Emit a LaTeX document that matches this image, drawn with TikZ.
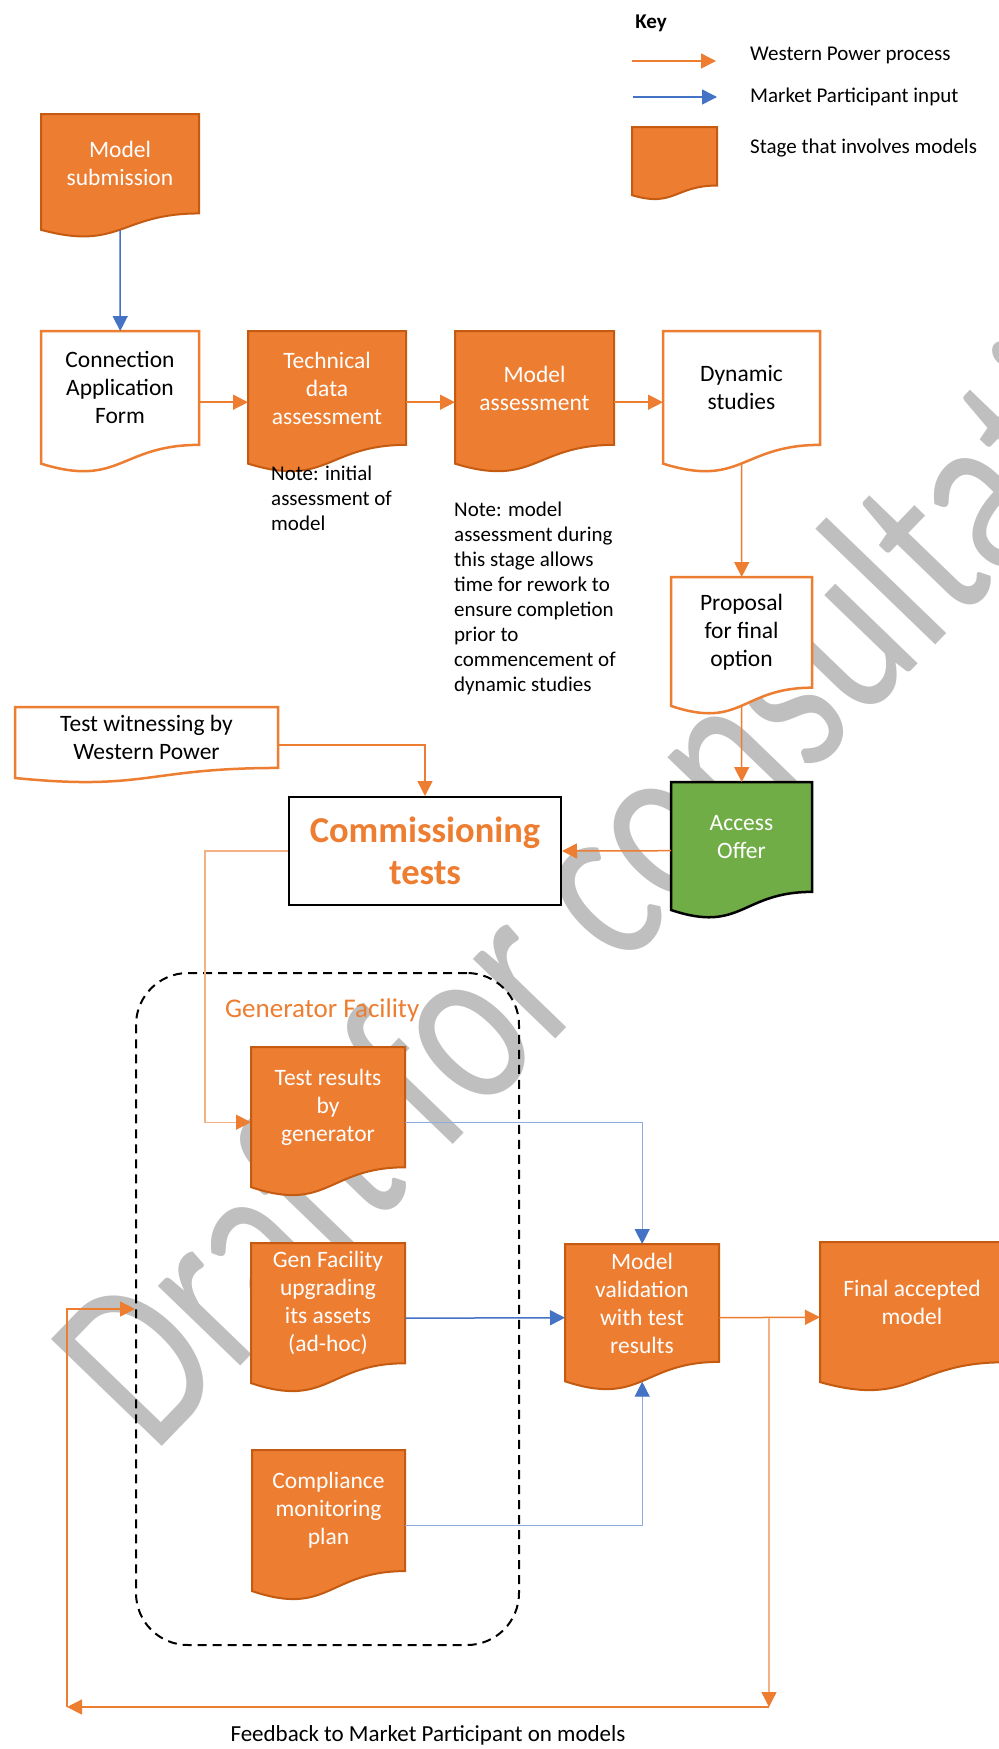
\documentclass[tikz,border=0pt]{standalone}
\usepackage{fontspec}
\setmainfont{Carlito}
\usetikzlibrary{arrows.meta,calc}
\definecolor{orng}{HTML}{ED7D31}
\definecolor{orngdark}{HTML}{C55A11}
\definecolor{ornglight}{HTML}{F4B183}
\definecolor{blu}{HTML}{4472C4}
\definecolor{blulight}{HTML}{8FAADC}
\definecolor{grn}{HTML}{70AD47}
\definecolor{wmgray}{HTML}{BFBFBF}
\tikzset{
  tip/.style={-{Triangle[length=15pt,width=15pt]}},
  oarr/.style={draw=orng, line width=1.5pt, tip},
  loarr/.style={draw=ornglight, line width=1.3pt, -{Triangle[length=15pt,width=15pt,fill=orng,color=orng]}},
  barr/.style={draw=blu, line width=1.5pt, tip},
  lbarr/.style={draw=blulight, line width=1.3pt, -{Triangle[length=15pt,width=15pt,fill=blu,color=blu]}},
  boxfont/.style={font=\fontsize{23.5}{28}\selectfont},
  od-shape/.style={fill=orng, draw=orngdark, line width=2pt},
  od-text/.style={boxfont, text=white, align=center, inner sep=0pt},
  wd-shape/.style={fill=white, draw=orng, line width=2.5pt},
  wd-text/.style={boxfont, text=black, align=center, inner sep=0pt},
  gd-shape/.style={fill=grn, draw=black, line width=2.5pt},
  gd-text/.style={boxfont, text=white, align=center, inner sep=0pt},
  notetext/.style={font=\fontsize{21}{25}\selectfont, align=left, inner sep=0pt, anchor=north west},
  keytext/.style={font=\fontsize{21}{25}\selectfont, inner sep=0pt, anchor=west},
}
% #1 kind, #2 name, #3 left, #4 top, #5 width, #6 height, #7 text
\newcommand\docnode[7]{%
  \path[#1-shape] (#3,#4) -- ({#3+#5},#4) -- ({#3+#5},{#4+0.802*#6})
     .. controls ({#3+0.5*#5},{#4+0.802*#6}) and ({#3+0.5*#5},{#4+1.1075*#6}) .. (#3,{#4+0.934*#6}) -- cycle;
  \node[inner sep=0pt, minimum width=#5, minimum height=#6, anchor=north west] (#2) at (#3,#4) {};
  \node[#1-text] (#2-t) at ({#3+0.5*#5},{#4+0.401*#6}) {#7};
}
\begin{document}
\begin{tikzpicture}[x=1pt,y=-1pt]
\useasboundingbox[fill=white] (0,0) rectangle (999,1749);

% watermark
\begin{scope}[shift={(153,1456)}, rotate=46, xscale=0.77]
  \node[transform shape, anchor=base west, inner sep=0pt, text=wmgray,
        font=\fontsize{240}{240}\selectfont] (wm) at (0,0) {Draft for consultation};
\end{scope}

% key
\node[font=\bfseries\fontsize{21}{25}\selectfont, inner sep=0pt] (key) at (651,23) {Key};
\coordinate (ko1) at (632,61); \coordinate (ko2) at (716,61);
\coordinate (kb1) at (633,97); \coordinate (kb2) at (717,97);
\draw[oarr] (ko1) -- (ko2);
\draw[barr] (kb1) -- (kb2);
\node[keytext] (k1) at (750,55) {Western Power process};
\node[keytext] (k2) at (750,97) {Market Participant input};
\docnode{od}{kdoc}{632}{127}{85}{73}{}
\node[keytext] (k3) at (750,148) {Stage that involves models};

% top row
\docnode{od}{ms}{41}{114}{158}{124}{Model\\submission}
\docnode{wd}{caf}{41}{331}{158}{142}{Connection\\Application\\Form}
\docnode{od}{tda}{248}{331}{158}{142}{Technical\\data\\assessment}
\docnode{od}{ma}{455}{331}{159}{142}{Model\\assessment}
\docnode{wd}{ds}{663}{331}{157}{142}{Dynamic\\studies}
\docnode{wd}{prop}{671}{577}{141}{138}{Proposal\\for final\\option}

\node[notetext] (n1) at (271,466) {Note: initial\\assessment of\\model};
\node[notetext] (n2) at (454,502) {Note: model\\assessment during\\this stage allows\\time for rework to\\ensure completion\\prior to\\commencement of\\dynamic studies};

% middle
\docnode{wd}{tw}{15}{707}{263}{76}{Test witnessing by\\Western Power}
\docnode{gd}{ao}{671}{782}{141}{137}{Access\\Offer}
\node[draw=black, line width=2pt, fill=white, minimum width=272, minimum height=108,
      inner sep=0pt, align=center, text=orng,
      font=\bfseries\fontsize{36.5}{42}\selectfont] (ct) at (425,851) {Commissioning\\tests};

% generator facility group
\node[draw=black, dash pattern=on 9pt off 6pt, line width=2pt, rounded corners=52pt,
      minimum width=383, minimum height=672, inner sep=0pt] (gen) at (327.5,1309) {};
\node[text=orng, font=\fontsize{27}{32}\selectfont, inner sep=0pt, anchor=west] (genlbl) at (225,1010) {Generator Facility};

\docnode{od}{tr}{251}{1047}{154}{150}{Test results\\by\\generator}
\docnode{od}{gf}{251}{1243}{154}{150}{Gen Facility\\upgrading\\its assets\\(ad-hoc)}
\docnode{od}{cm}{252}{1450}{153}{151}{Compliance\\monitoring\\plan}
\docnode{od}{mv}{565}{1244}{154}{147}{Model\\validation\\with test\\results}
\docnode{od}{fa}{820}{1242}{184}{150}{Final accepted\\model}

\node[font=\fontsize{23}{28}\selectfont, inner sep=0pt] (fbtext) at (428,1735) {Feedback to Market Participant on models};

% connectors
\draw[barr] ($(ms.north)!0.934!(ms.south)$) -- (caf.north);
\draw[oarr] (caf.east) -- (tda.west);
\draw[oarr] (tda.east) -- (ma.west);
\draw[oarr] (ma.east) -- (ds.west);
\draw[oarr] ($(ds.north)!0.934!(ds.south)$) -- (prop.north);
\draw[oarr] ($(prop.north)!0.934!(prop.south)$) -- (ao.north);
\draw[oarr] (ao.west) -- (ct.east);
\draw[oarr] (tw.east) -| (ct.north);
\coordinate (c1) at (205,0);
\draw[loarr] (ct.west) -- (ct.west -| c1) |- (tr.west);
\draw[lbarr] (tr.east) -| (mv.north);
\draw[barr] (gf.east) -- (mv.west);
\draw[lbarr] (cm.east) -| ($(mv.north)!0.934!(mv.south)$);
\draw[oarr] (mv.east) -- (fa.west);
\coordinate (fb1) at (769,1707);
\coordinate (fb2) at (67,1707);
\draw[loarr] (mv.east -| fb1) -- (fb1);
\draw[oarr] (fb1) -- (fb2);
\draw[oarr] (fb2) |- (gen.west);
\end{tikzpicture}
\end{document}
